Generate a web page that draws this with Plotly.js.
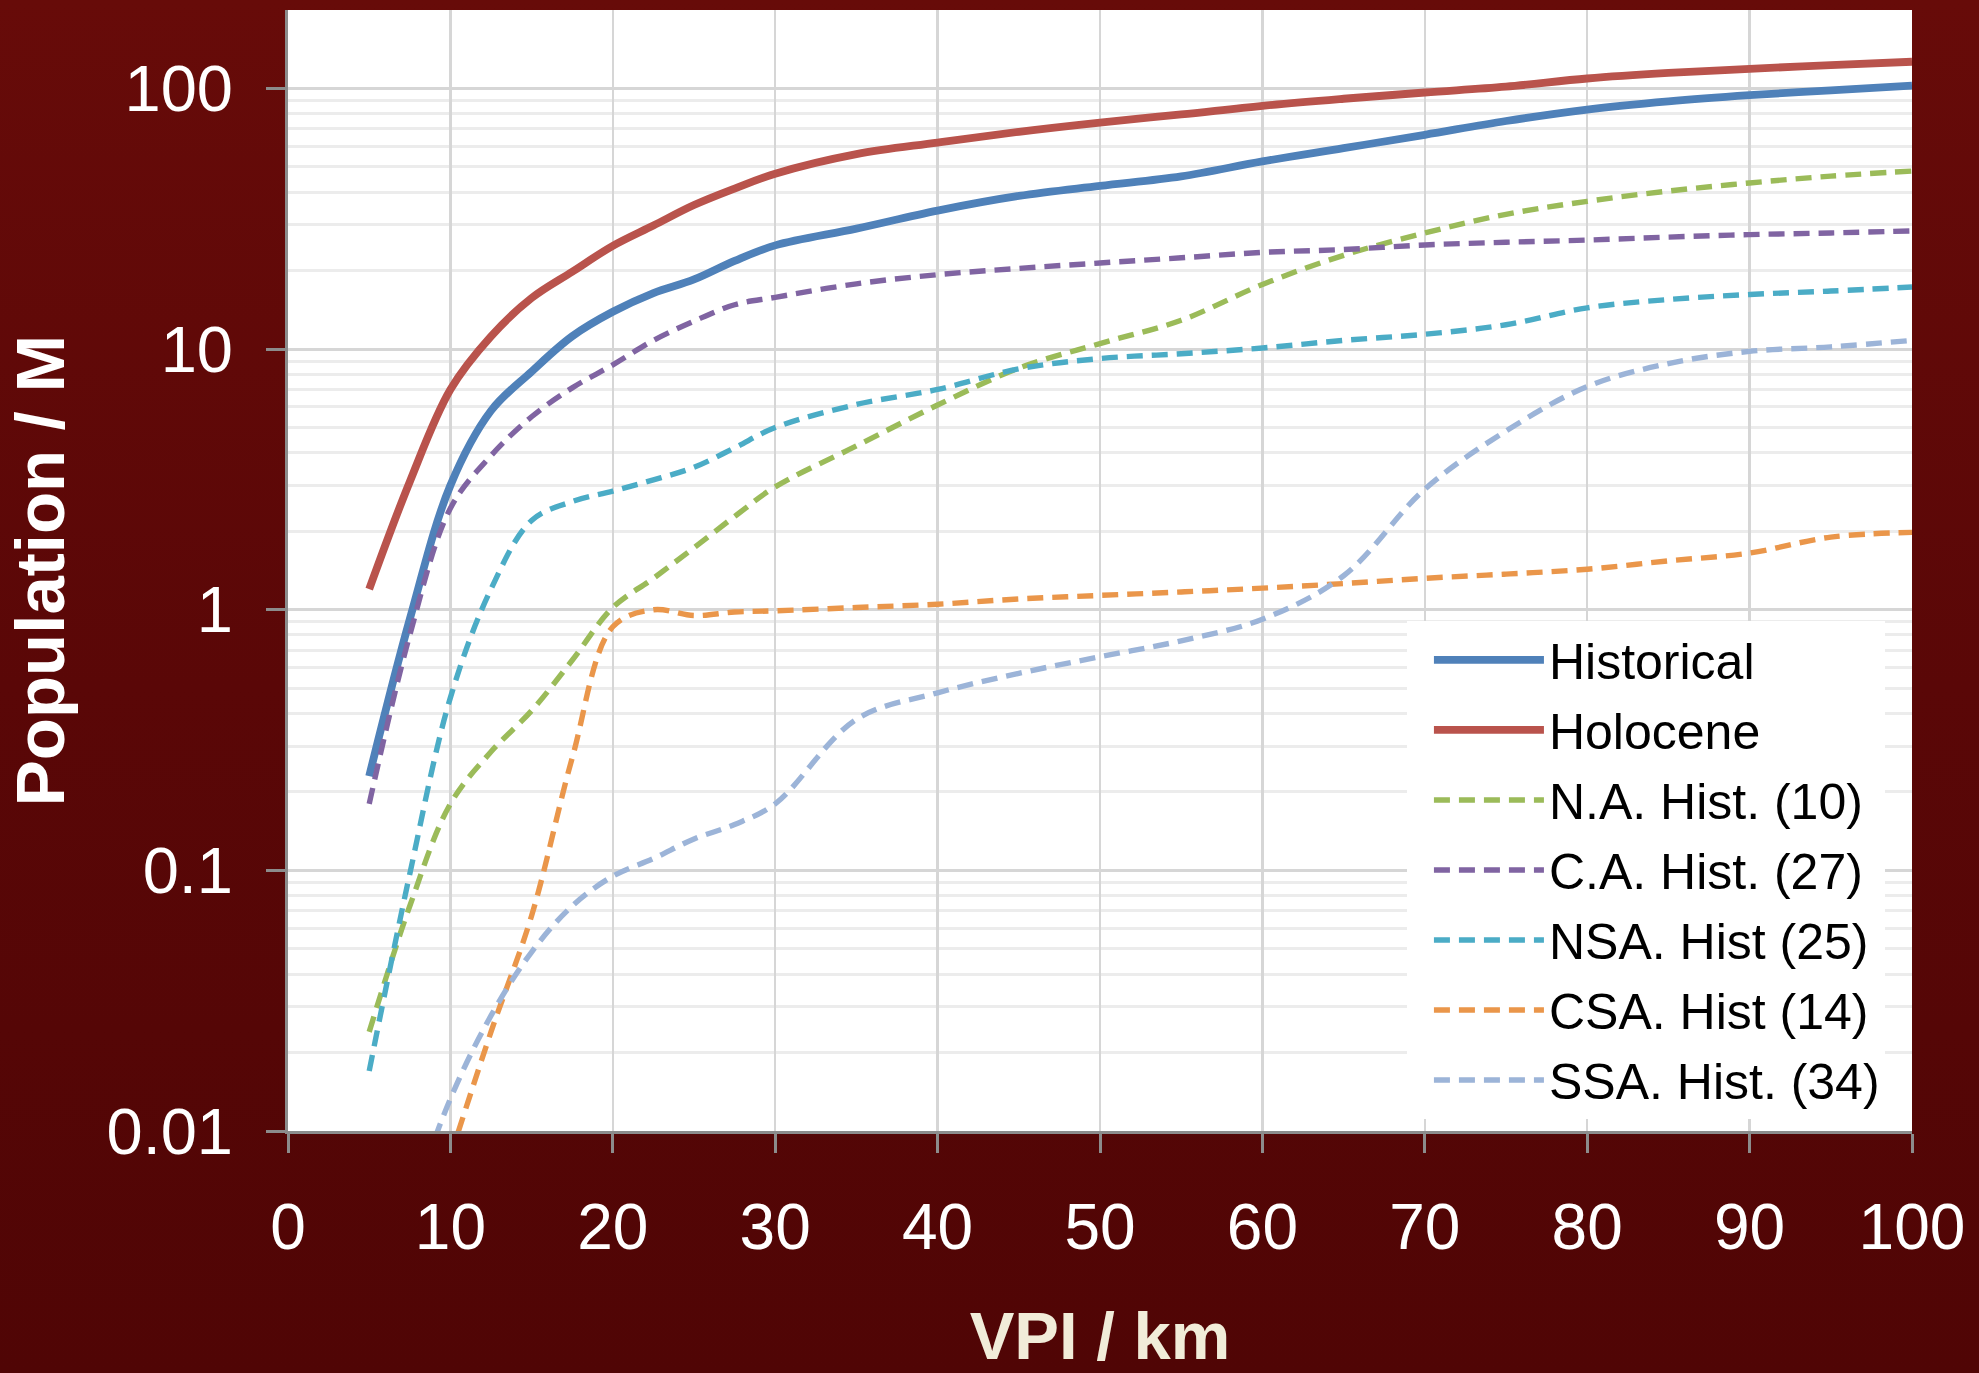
<!DOCTYPE html>
<html>
<head>
<meta charset="utf-8">
<script src="https://cdn.plot.ly/plotly-3.0.1.min.js"></script>
<style>
  html, body { margin: 0; padding: 0; }
  body { width: 1979px; height: 1373px; background: linear-gradient(to bottom, #670b09 0%, #5a0707 50%, #500505 100%); }
  #chart { width: 1979px; height: 1373px; }
</style>
</head>
<body>
<div id="chart"></div>
<script>
// VPI distance (km)
const vpi = [5, 7.5, 10, 12.5, 15, 17.5, 20, 22.5, 25, 27.5, 30, 35, 40, 45, 50, 55, 60, 65, 70, 75, 80, 85, 90, 95, 100];

// Population (millions) per series
const historical = [0.23, 0.92, 3.0, 5.8, 8.2, 11.2, 13.9, 16.4, 18.5, 21.8, 25.0, 29.0, 34.0, 38.7, 42.3, 46.0, 52.5, 59.0, 66.4, 75.0, 83.0, 89.2, 94.2, 98.4, 102.6];
const holocene   = [1.2, 3.1, 7.0, 11.2, 15.7, 19.8, 24.9, 29.8, 35.7, 41.3, 47.1, 56.0, 62.0, 68.2, 74.0, 79.5, 85.8, 91.3, 96.5, 101.6, 109.2, 114.7, 118.9, 122.9, 126.6];
const naHist     = [0.024, 0.073, 0.18, 0.285, 0.41, 0.64, 1.02, 1.32, 1.73, 2.28, 2.96, 4.25, 6.1, 8.45, 10.5, 12.9, 17.7, 22.9, 27.9, 32.9, 36.9, 40.4, 43.4, 46.1, 48.2];
const caHist     = [0.18, 0.8, 2.45, 3.9, 5.5, 7.1, 8.7, 10.8, 12.8, 14.8, 15.8, 17.8, 19.3, 20.4, 21.4, 22.4, 23.5, 24.1, 25.1, 25.7, 26.2, 26.9, 27.5, 27.9, 28.4];
const nsaHist    = [0.017, 0.097, 0.46, 1.2, 2.2, 2.6, 2.85, 3.15, 3.52, 4.18, 5.0, 6.13, 7.0, 8.4, 9.2, 9.6, 10.1, 10.8, 11.4, 12.4, 14.4, 15.5, 16.2, 16.7, 17.3];
const csaHist    = [null, null, 0.008, 0.024, 0.067, 0.27, 0.86, 1.0, 0.95, 0.98, 0.99, 1.02, 1.05, 1.10, 1.135, 1.17, 1.21, 1.26, 1.32, 1.37, 1.43, 1.54, 1.65, 1.9, 1.98];
const ssaHist    = [null, 0.005, 0.0133, 0.0277, 0.0486, 0.073, 0.095, 0.111, 0.132, 0.150, 0.180, 0.38, 0.48, 0.57, 0.66, 0.76, 0.92, 1.35, 2.9, 4.85, 7.18, 8.8, 9.8, 10.2, 10.8];

const seriesNames = ["Historical", "Holocene", "N.A. Hist. (10)", "C.A. Hist. (27)", "NSA. Hist (25)", "CSA. Hist (14)", "SSA. Hist. (34)"];
const seriesValues = [historical, holocene, naHist, caHist, nsaHist, csaHist, ssaHist];
const seriesColors = ["#4f81b9", "#b9534c", "#9bbb59", "#8064a2", "#4bacc6", "#ea964a", "#9cb4d8"];
const seriesSolid = [true, true, false, false, false, false, false];

const yTickVals = [0.01, 0.1, 1, 10, 100];
const yTickText = ["0.01", "0.1", "1", "10", "100"];
const xTickVals = [0, 10, 20, 30, 40, 50, 60, 70, 80, 90, 100];

const minorVals = [];
[0.01, 0.1, 1, 10].forEach(d => { for (let k = 2; k <= 9; k++) minorVals.push(+(d * k).toPrecision(3)); });

const traces = seriesNames.map((name, i) => ({
  type: "scatter",
  mode: "lines",
  name: name,
  legendgroup: "g" + i,
  x: vpi,
  y: seriesValues[i],
  connectgaps: false,
  line: {
    color: seriesColors[i],
    width: seriesSolid[i] ? 7.8 : 5.4,
    shape: "spline",
    smoothing: 1,
    dash: seriesSolid[i] ? "solid" : "16px,9px"
  },
  hoverinfo: "x+y+name"
}));

const FONT = "Liberation Sans, Arial, Helvetica, sans-serif";

const layout = {
  width: 1979,
  height: 1373,
  paper_bgcolor: "rgba(0,0,0,0)",
  plot_bgcolor: "#ffffff",
  margin: { l: 288, r: 67, t: 10, b: 242 },
  font: { family: FONT, color: "#ffffff" },
  showlegend: true,
  legend: {
    x: 0.689, y: 0.455, xanchor: "left", yanchor: "top",
    bgcolor: "#ffffff",
    borderwidth: 0,
    font: { family: FONT, size: 50, color: "#000000" },
    itemwidth: 110,
    indentation: 22,
    traceorder: "grouped",
    tracegroupgap: 2
  },
  xaxis: {
    range: [0, 100],
    tickmode: "array",
    tickvals: xTickVals,
    ticks: "outside",
    ticklen: 19,
    tickwidth: 3,
    tickcolor: "#8c8c8c",
    showline: true,
    linecolor: "#8c8c8c",
    linewidth: 3,
    showgrid: true,
    gridcolor: "#d6d6d6",
    gridwidth: 2.5,
    zeroline: false,
    tickfont: { family: FONT, size: 64, color: "#ffffff" },
    ticklabelstandoff: 19,
    title: { text: "VPI / km", font: { family: FONT, size: 67, color: "#f1ecd9", weight: "bold" }, standoff: 60 }
  },
  yaxis: {
    type: "log",
    range: [-2, Math.log10(200)],
    tickmode: "array",
    tickvals: yTickVals,
    ticktext: yTickText,
    ticks: "outside",
    ticklen: 19,
    tickwidth: 3,
    tickcolor: "#8c8c8c",
    showline: true,
    linecolor: "#8c8c8c",
    linewidth: 3,
    showgrid: true,
    gridcolor: "#d6d6d6",
    gridwidth: 3,
    zeroline: false,
    tickfont: { family: FONT, size: 65, color: "#ffffff" },
    ticklabelstandoff: 20,
    minor: {
      tickmode: "array",
      tickvals: minorVals,
      ticks: "",
      showgrid: true,
      gridcolor: "#ececec",
      gridwidth: 3
    },
    title: { text: "Population / M", font: { family: FONT, size: 69, color: "#ffffff", weight: "bold" }, standoff: 20 }
  }
};

Plotly.newPlot("chart", traces, layout, { displayModeBar: false, staticPlot: true });
</script>
</body>
</html>
